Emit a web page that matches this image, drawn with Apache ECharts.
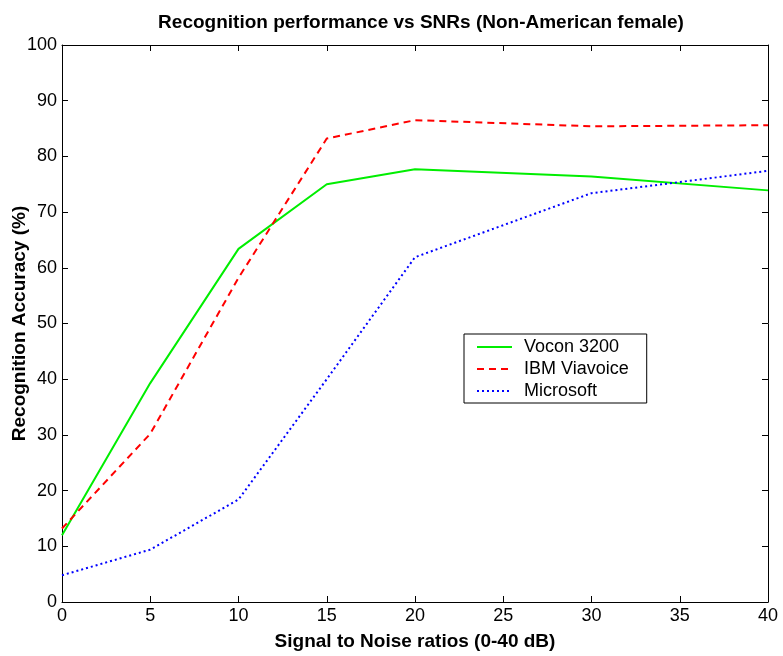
<!DOCTYPE html>
<html>
<head>
<meta charset="utf-8">
<script src="https://cdn.jsdelivr.net/npm/echarts@6/dist/echarts.min.js"></script>
<style>
  html, body { margin: 0; padding: 0; background: #fff; }
  #chart { width: 783px; height: 656px; }
</style>
</head>
<body>
<div id="chart"></div>
<script>
// SNR levels (dB) and accuracy (%)
const snr = [0, 5, 10, 15, 20, 30, 40]
const vocon = [12, 39.3, 63.4, 75, 77.7, 76.4, 73.9]
const ibm = [13.2, 30.2, 58.2, 83.2, 86.5, 85.4, 85.6]
const microsoft = [4.8, 9.4, 18.4, 40, 61.9, 73.4, 77.4]

const font = 'Liberation Sans, Arial, sans-serif'

function pairs(values) {
  return snr.map((x, i) => [x, values[i]])
}

const chart = echarts.init(document.getElementById('chart'))

const axisLine = { show: true, onZero: false, lineStyle: { color: '#000', width: 1 } }
const tick = { show: true, inside: true, length: 6, lineStyle: { color: '#000' } }
const nameStyle = { fontFamily: font, fontWeight: 'bold', fontSize: 19, color: '#000' }
const labelStyle = { fontFamily: font, fontSize: 18, color: '#000', margin: 5 }

chart.setOption({
  animation: false,
  backgroundColor: '#fff',
  title: {
    text: 'Recognition performance vs SNRs (Non-American female)',
    left: 416,
    textAlign: 'center',
    top: 8,
    textStyle: nameStyle
  },
  grid: { left: 62, right: 15, top: 45, bottom: 54, containLabel: false, outerBoundsMode: 'none' },
  legend: {
    orient: 'vertical',
    left: 464,
    top: 334,
    padding: [4, 18, 3, 12],
    itemGap: 4,
    itemWidth: 35,
    itemHeight: 14,
    borderColor: '#000',
    borderWidth: 1,
    backgroundColor: '#fff',
    itemStyle: { opacity: 0 },
    textStyle: { fontFamily: font, fontSize: 18, color: '#000', padding: [0, 0, 0, 7] },
    data: ['Vocon 3200', 'IBM Viavoice', 'Microsoft']
  },
  xAxis: [
    {
      type: 'value',
      min: 0,
      max: 40,
      interval: 5,
      position: 'bottom',
      name: 'Signal to Noise ratios (0-40 dB)',
      nameLocation: 'middle',
      nameGap: 30,
      nameMoveOverlap: false,
      nameTextStyle: nameStyle,
      axisLine: axisLine,
      axisTick: tick,
      axisLabel: labelStyle,
      splitLine: { show: false }
    },
    {
      type: 'value',
      min: 0,
      max: 40,
      interval: 5,
      position: 'top',
      axisLine: axisLine,
      axisTick: tick,
      axisLabel: { show: false },
      splitLine: { show: false }
    }
  ],
  yAxis: [
    {
      type: 'value',
      min: 0,
      max: 100,
      interval: 10,
      position: 'left',
      name: 'Recognition Accuracy (%)',
      nameLocation: 'middle',
      nameGap: 33,
      nameMoveOverlap: false,
      nameTextStyle: nameStyle,
      axisLine: axisLine,
      axisTick: tick,
      axisLabel: labelStyle,
      splitLine: { show: false }
    },
    {
      type: 'value',
      min: 0,
      max: 100,
      interval: 10,
      position: 'right',
      axisLine: axisLine,
      axisTick: tick,
      axisLabel: { show: false },
      splitLine: { show: false }
    }
  ],
  series: [
    {
      name: 'Vocon 3200',
      type: 'line',
      data: pairs(vocon),
      showSymbol: false,
      symbol: 'none',
      color: '#00ee00',
      lineStyle: { color: '#00ee00', width: 2, type: 'solid' }
    },
    {
      name: 'IBM Viavoice',
      type: 'line',
      data: pairs(ibm),
      showSymbol: false,
      symbol: 'none',
      color: '#ff0000',
      lineStyle: { color: '#ff0000', width: 2, type: [7, 5] }
    },
    {
      name: 'Microsoft',
      type: 'line',
      data: pairs(microsoft),
      showSymbol: false,
      symbol: 'none',
      color: '#0000ff',
      lineStyle: { color: '#0000ff', width: 2, type: [2, 3] }
    }
  ]
})
</script>
</body>
</html>
